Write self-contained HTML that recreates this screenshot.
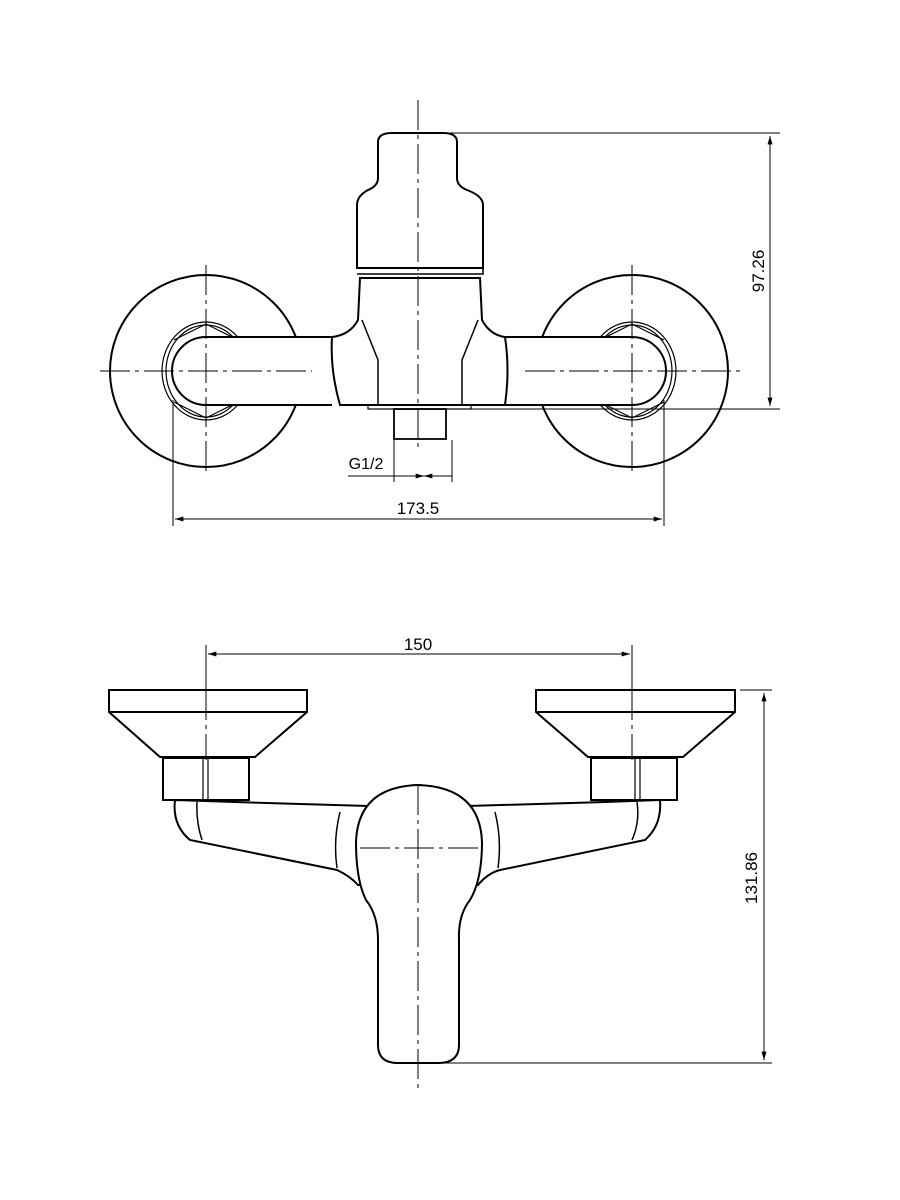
<!DOCTYPE html>
<html><head><style>body{margin:0;background:#fff}svg{display:block}text{font-family:"Liberation Sans",sans-serif;fill:#000}</style></head><body>
<svg width="900" height="1200" viewBox="0 0 900 1200" xmlns="http://www.w3.org/2000/svg">
<defs><marker id="a" viewBox="0 0 10 6" refX="10" refY="3" markerWidth="14" markerHeight="5" orient="auto-start-reverse" markerUnits="userSpaceOnUse"><path d="M0,0L10,3L0,6z" fill="#000"/></marker></defs>
<g fill="none" stroke="#000" stroke-width="2">
<!-- TOP VIEW -->
<circle cx="206" cy="371" r="96"/>
<circle cx="632" cy="371" r="96"/>
<g stroke-width="1.2">
<ellipse cx="206" cy="371" rx="44" ry="49"/><ellipse cx="206" cy="371" rx="40" ry="46"/>
<ellipse cx="632" cy="371" rx="44" ry="49"/><ellipse cx="632" cy="371" rx="40" ry="46"/>
<path d="M174,340 L206,324 L238,340 M174,402 L206,418 L238,402"/>
<path d="M600,340 L632,324 L664,340 M600,402 L632,418 L664,402"/>
</g>
<path d="M332,337 L206,337 A34,34 0 0 0 206,405 L332,405" fill="#fff"/>
<path d="M505,337 L632,337 A34,34 0 0 1 632,405 L505,405" fill="#fff"/>
<path d="M332,337 Q350,335 358,320 L360,278 L480,278 L482,320 Q490,335 505,337 Q510,370 505,405 L340,405 Q330,370 332,337Z" fill="#fff"/>
<path d="M362,320 Q370,340 378,360 L378,405 M478,320 Q470,340 462,360 L462,405" stroke-width="1.5"/>
<path d="M357,268 L357,205 Q357,196 368,190 Q378,186 378,178 L378,142 Q378,133 392,133 L443,133 Q457,133 457,142 L457,178 Q457,186 467,190 Q483,196 483,205 L483,268 Z" fill="#fff"/>
<path d="M357,268 L483,268 L483,274 L357,274" stroke-width="1.5"/>
<rect x="368" y="405" width="103" height="4" stroke-width="1.2"/>
<rect x="394" y="409" width="52" height="30" stroke-width="1.8"/>
</g>
<g stroke="#000" stroke-width="1" fill="none">
<path d="M418,100 V450 M100,371 H312 M525,371 H740 M206,265 V475 M632,265 V475" stroke-dasharray="30,5,4,5"/>
<path d="M418,133 H780 M470,409 H780 M173,400 V526 M664,400 V526 M394,440 V482 M452,440 V482 M348,476 H394"/>
<line x1="770" y1="136" x2="770" y2="406" marker-start="url(#a)" marker-end="url(#a)"/>
<line x1="175" y1="519" x2="662" y2="519" marker-start="url(#a)" marker-end="url(#a)"/>
<line x1="394" y1="476" x2="452" y2="476"/>
<line x1="408" y1="476" x2="424" y2="476" marker-end="url(#a)"/><line x1="440" y1="476" x2="424" y2="476" marker-end="url(#a)"/>
</g>
<text x="418" y="514" font-size="17" text-anchor="middle">173.5</text>
<text x="366" y="469" font-size="16" text-anchor="middle">G1/2</text>
<text transform="translate(764,271) rotate(-90)" font-size="17" text-anchor="middle">97.26</text>

<!-- BOTTOM VIEW -->
<g fill="none" stroke="#000" stroke-width="2">
<path d="M109,690 H307 V712 L255,757 H160 L109,712 Z M109,712 H307" fill="#fff"/>
<path d="M536,690 H735 V712 L683,757 H588 L536,712 Z M536,712 H735" fill="#fff"/>
<rect x="163" y="758" width="86" height="42" fill="#fff"/>
<rect x="591" y="758" width="86" height="42" fill="#fff"/>
<path d="M203,758 V800 M208,758 V800 M635,758 V800 M640,758 V800" stroke-width="1.2"/>
<path d="M175,800 Q172,825 190,840 L337,870 Q350,876 358,885 L478,885 Q488,873 500,870 L645,840 Q662,825 660,800 L605,802 L468,806 Q445,787 418,785 Q392,787 368,806 L235,802 Z" fill="#fff"/>
<path d="M197,802 Q196,822 202,840 M637,802 Q640,822 632,840 M340,812 Q333,840 337,868 M495,812 Q502,840 498,868" stroke-width="1.5"/>
<path d="M418,785 Q480,787 482,842 Q482,880 470,900 Q458,915 459,940 L459,1045 Q459,1063 438,1063 L398,1063 Q378,1063 378,1045 L378,940 Q378,915 366,900 Q356,880 356,842 Q358,787 418,785 Z" fill="#fff"/>
</g>
<g stroke="#000" stroke-width="1" fill="none">
<path d="M418,785 V1090 M360,848 H478 M206,690 V760 M632,690 V760" stroke-dasharray="30,5,4,5"/>
<path d="M206,645 V690 M632,645 V690 M740,690 H772 M420,1063 H772"/>
<line x1="208" y1="654" x2="630" y2="654" marker-start="url(#a)" marker-end="url(#a)"/>
<line x1="764" y1="693" x2="764" y2="1060" marker-start="url(#a)" marker-end="url(#a)"/>
</g>
<text x="418" y="650" font-size="17" text-anchor="middle">150</text>
<text transform="translate(757,878) rotate(-90)" font-size="17" text-anchor="middle">131.86</text>
</svg>
</body></html>
